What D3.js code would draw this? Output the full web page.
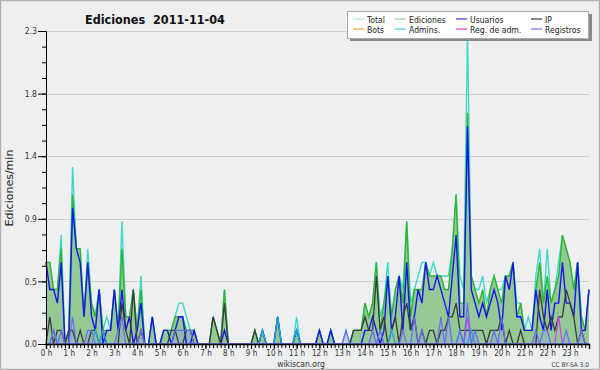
<!DOCTYPE html>
<html><head><meta charset="utf-8">
<script src="https://cdn.jsdelivr.net/npm/d3@7"></script>
<style>html,body{margin:0;padding:0;background:#fff}svg{display:block}</style>
</head><body><svg id="c" width="600" height="370"></svg>
<script>
// ---- data: 144 ten-minute bins, edits per minute ----
const hourLabels = d3.range(24).map(h => h + " h");
const yTicks = [0, 0.46, 0.92, 1.38, 1.84, 2.3];
const seriesNames = ["Total","Ediciones","Usuarios","IP","Bots","Admins.","Reg. de adm.","Registros"];
const seriesColors = ["#aee8e6","#8fd08f","#3535e0","#333333","#f0a030","#40c8dc","#d040e0","#7878f0"];

const total = [
 .6,.6,.4,.4,.8,0,  .1,1.3,.7,.7,.2,.7,  .3,.2,.4,.1,.2,.1,  .4,.1,.9,.2,.2,.4,
 .1,.5,0,0,.2,0,  0,.1,.1,.1,.2,.3,  .3,.2,.1,.1,0,0,  0,0,.2,.1,0,.4,
 0,0,0,0,0,0,  0,.1,0,.1,0,0,  0,.2,0,0,0,0,  .2,0,0,0,0,0,
 .1,0,0,.1,0,0,  0,.1,0,.1,.1,.1,  .3,.2,.3,.6,.2,.3,  .6,.2,.4,.5,.4,.9,
 .3,.4,.5,.6,.6,.5,  .6,.5,.5,.5,.5,.7,  1.1,.5,.4,2.3,.5,.4,  .4,.5,.3,.4,.5,.4,
 .4,.5,.5,.6,.3,.3,  .1,.2,.1,.5,.7,.3,  .7,.3,.4,.6,.8,.7,  .6,.4,.6,.2,.1,.4];
const ediciones = [
 .6,.6,.4,.4,.7,0,  .1,1.1,.7,.7,.2,.6,  .3,.2,.4,.1,.1,.1,  .4,.1,.7,.2,.2,.4,
 .1,.4,0,0,.2,0,  0,.1,.1,.1,.2,.2,  .2,.1,.1,.1,0,0,  0,0,.2,.1,0,.4,
 0,0,0,0,0,0,  0,.1,0,.1,0,0,  0,.2,0,0,0,0,  .1,0,0,0,0,0,
 .1,0,0,.1,0,0,  0,0,0,.1,.1,.1,  .3,.2,.3,.6,.1,.3,  .5,.2,.4,.5,.3,.9,
 .2,.4,.4,.4,.6,.5,  .5,.5,.5,.4,.4,.7,  1.1,.3,.3,1.7,.5,.4,  .3,.4,.2,.4,.5,.4,
 .3,.5,.5,.6,.2,.3,  .1,.1,.1,.4,.6,.3,  .5,.3,.4,.5,.8,.7,  .6,.4,.6,.2,.1,.4];
const usuarios = [
 .6,.4,.4,.3,.6,0,  0,1.0,.7,.6,.2,.6,  .2,.1,.4,0,.1,.1,  .4,.1,.4,.1,.2,0,
 .1,.3,0,0,.2,0,  0,.1,.1,0,.1,.2,  .2,0,0,.1,0,0,  0,0,0,0,0,.1,
 0,0,0,0,0,0,  0,0,0,.1,0,0,  0,.2,0,0,0,0,  .1,0,0,0,0,0,
 .1,0,0,.1,0,0,  0,0,0,0,0,0,  .1,.1,.2,.1,0,.1,  .5,.1,.2,.5,.1,.6,
 .1,.2,.4,.3,.6,.4,  .4,.5,.4,.3,.2,.5,  .8,.2,.2,1.6,.4,.3,  .2,.3,.2,.3,.4,.3,
 .1,.5,.4,.6,.2,.2,  .1,.1,.1,.4,.2,.1,  .4,.1,.3,.3,.6,.3,  .3,.2,.6,.1,.1,.4];
const ip = [
 0,.2,0,.1,.1,0,  .1,.1,0,.1,0,0,  .1,.1,0,.1,0,0,  0,0,.3,.1,0,.4,
 0,.1,0,0,0,0,  0,0,0,.1,.1,0,  0,.1,.1,0,0,0,  0,0,.2,.1,0,.3,
 0,0,0,0,0,0,  0,.1,0,0,0,0,  0,0,0,0,0,0,  0,0,0,0,0,0,
 0,0,0,0,0,0,  0,0,0,.1,.1,.1,  .2,.1,.1,.5,.1,.2,  0,.1,.2,0,.2,.3,
 .1,.2,0,.1,0,.1,  .1,0,.1,.1,.2,.2,  .3,.1,.1,.1,.1,.1,  .1,.1,0,.1,.1,.1,
 .2,0,.1,0,0,.1,  0,0,0,0,.4,.2,  .1,.2,.1,.2,.2,.4,  .3,.2,0,.1,0,0];
const bots = new Array(144).fill(0);
const admins = [
 0,0,.1,0,0,0,  0,0,0,0,0,0,  0,.1,0,.1,0,0,  0,0,0,0,0,0,
 0,0,0,0,0,0,  0,0,0,0,0,0,  0,0,0,0,0,0,  0,0,0,0,0,0,
 0,0,0,0,0,0,  0,0,0,.1,0,0,  0,.2,0,0,0,0,  .1,0,0,0,0,0,
 0,0,0,0,0,0,  0,0,0,0,0,0,  0,0,0,0,0,0,  0,.1,0,0,0,0,
 0,0,0,0,0,0,  0,0,0,0,0,0,  0,.1,0,0,.1,0,  0,0,0,0,0,0,
 0,0,0,0,0,0,  0,0,0,0,0,0,  0,0,0,0,0,0,  0,0,0,0,0,0];
const regAdm = [
 0,0,0,0,0,0,  0,0,0,0,0,0,  0,0,0,0,0,0,  0,0,0,0,0,0,
 0,0,0,0,0,0,  0,0,0,0,0,0,  0,0,0,0,0,0,  0,0,0,0,0,0,
 0,0,0,0,0,0,  0,0,0,0,0,0,  0,0,0,0,0,0,  0,0,0,0,0,0,
 0,0,0,0,0,0,  0,0,0,0,0,0,  0,0,0,0,0,0,  0,0,0,0,0,0,
 0,0,0,0,0,0,  0,0,0,0,0,0,  0,0,0,.2,0,0,  0,0,0,0,0,0,
 0,0,0,0,0,0,  0,0,0,0,0,0,  0,0,0,.2,0,0,  0,0,0,0,0,0];
const registros = [
 0,0,.1,0,.1,0,  0,.2,0,0,0,.1,  .1,0,0,0,0,0,  0,.1,.2,0,0,0,
 0,.1,0,0,0,0,  0,0,0,0,.1,.1,  .1,.1,.1,0,0,0,  0,0,0,0,0,0,
 0,0,0,0,0,0,  0,0,0,0,0,0,  0,0,0,0,0,0,  0,0,0,0,0,0,
 0,0,0,0,0,0,  0,.1,0,0,0,0,  0,0,.1,0,.1,0,  0,0,0,0,.1,0,
 0,.2,0,.1,0,0,  0,0,.2,0,.2,0,  0,.1,0,.3,0,.1,  0,0,0,0,.1,0,
 .2,0,0,0,0,0,  0,0,0,.1,0,.1,  .1,0,0,0,0,.1,  0,0,0,.1,0,0];

// ---- chart ----
const svg = d3.select("#c");
const W = 600, H = 370;
const FONT = "'DejaVu Sans Condensed','DejaVu Sans',sans-serif";
svg.append("rect").attr("x",0.5).attr("y",0.5).attr("width",W-1).attr("height",H-1)
  .attr("fill","#eeeff1").attr("stroke","#b0b0b0").attr("stroke-width",1.5);

const x = d3.scaleLinear().domain([0,143]).range([46,589]);
const y = d3.scaleLinear().domain([0,2.3]).range([344,31]);

// grid
svg.append("g").selectAll("line").data(yTicks.slice(1)).join("line")
  .attr("x1",46).attr("x2",589).attr("y1",d=>Math.round(y(d))+0.5).attr("y2",d=>Math.round(y(d))+0.5)
  .attr("stroke","#cfcfcf").attr("stroke-width",1);

const idx = d3.range(144);
function lineOf(arr){ return d3.line().x(i=>x(i)).y(i=>y(arr[i]))(idx); }
function areaOf(arr){ return d3.area().x(i=>x(i)).y0(y(0)).y1(i=>y(arr[i]))(idx); }

const plot = svg.append("g");
plot.append("path").attr("d",lineOf(total)).attr("fill","none").attr("stroke","#3fd6cc").attr("stroke-width",1.4);
plot.append("path").attr("d",areaOf(ediciones)).attr("fill","#94c894").attr("stroke","none");
plot.append("path").attr("d",lineOf(ediciones)).attr("fill","none").attr("stroke","#2fb52f").attr("stroke-width",1.4);
plot.append("path").attr("d",areaOf(registros)).attr("fill","#8a9cf0").attr("opacity",0.35);
plot.append("path").attr("d",lineOf(usuarios)).attr("fill","none").attr("stroke","#1515ee").attr("stroke-width",1.4);
plot.append("path").attr("d",lineOf(ip)).attr("fill","none").attr("stroke","#3a3a3a").attr("stroke-width",1.3);
plot.append("path").attr("d",lineOf(bots)).attr("fill","none").attr("stroke","#f0a030").attr("stroke-width",1.2).attr("opacity",0);
plot.append("path").attr("d",lineOf(admins)).attr("fill","none").attr("stroke","#22a8e0").attr("stroke-width",1.3);
plot.append("path").attr("d",lineOf(regAdm)).attr("fill","none").attr("stroke","#d040e0").attr("stroke-width",1.2);
plot.append("path").attr("d",lineOf(registros)).attr("fill","none").attr("stroke","#6a6af2").attr("stroke-width",1.2);

// axes
const yMinor = d3.range(0,21).map(k=>k*0.115);
const gyMinor = svg.append("g").attr("transform","translate(46,0)")
  .call(d3.axisLeft(y).tickValues(yMinor).tickSize(4).tickFormat(""));
gyMinor.select(".domain").remove();
const gy = svg.append("g").attr("transform","translate(46,0)")
  .call(d3.axisLeft(y).tickValues(yTicks).tickSize(8).tickPadding(1).tickFormat(d3.format(".1f")));
gy.select(".domain").attr("stroke","#000");
svg.selectAll("g.tick line").attr("stroke","#000");
gy.selectAll("text").attr("font-family",FONT).attr("font-size",8.5).attr("fill","#333");

const gxMinor = svg.append("g").attr("transform","translate(0,344)")
  .call(d3.axisBottom(x).tickValues(idx).tickSize(4).tickFormat(""));
gxMinor.select(".domain").remove();
const gx = svg.append("g").attr("transform","translate(0,344)")
  .call(d3.axisBottom(x).tickValues(d3.range(0,144,6)).tickSize(5).tickPadding(1)
    .tickFormat((d,k)=>hourLabels[k]));
gx.select(".domain").attr("stroke","#000").attr("stroke-width",1.5);
svg.selectAll("g.tick line").attr("stroke","#000");
gx.selectAll("text").attr("font-family",FONT).attr("font-size",8).attr("fill","#333");

// texts
svg.append("text").attr("x",85).attr("y",24).text("Ediciones  2011-11-04")
  .attr("font-family",FONT).attr("font-weight","bold").attr("font-size",12.5).attr("fill","#111")
  .style("white-space","pre");
svg.append("text").attr("transform","translate(13,188) rotate(-90)").attr("text-anchor","middle")
  .text("Ediciones/min").attr("font-family","'DejaVu Sans',sans-serif").attr("font-size",11).attr("fill","#222");
svg.append("text").attr("x",301).attr("y",367).attr("text-anchor","middle").text("wikiscan.org")
  .attr("font-family",FONT).attr("font-size",8.5).attr("fill","#333");
svg.append("text").attr("x",589).attr("y",367).attr("text-anchor","end").text("CC BY-SA 3.0")
  .attr("font-family",FONT).attr("font-size",6.5).attr("fill","#444");

// legend
const lg = svg.append("g");
lg.append("rect").attr("x",350).attr("y",14).attr("width",242).attr("height",27).attr("fill","#8a8a8a");
lg.append("rect").attr("x",347.5).attr("y",11.5).attr("width",241).attr("height",27).attr("fill","#fff").attr("stroke","#aaa");
const colX = [367, 409, 470, 545];
const rowY = [22.5, 32.5];
seriesNames.forEach((name,k)=>{
  const c = k%4, r = Math.floor(k/4);
  lg.append("line").attr("x1",colX[c]-14).attr("x2",colX[c]-3).attr("y1",rowY[r]-3.5).attr("y2",rowY[r]-3.5)
    .attr("stroke",seriesColors[k]).attr("stroke-width",1.2);
  lg.append("text").attr("x",colX[c]).attr("y",rowY[r]).text(name)
    .attr("font-family",FONT).attr("font-size",8.6).attr("fill","#222");
});
</script></body></html>
